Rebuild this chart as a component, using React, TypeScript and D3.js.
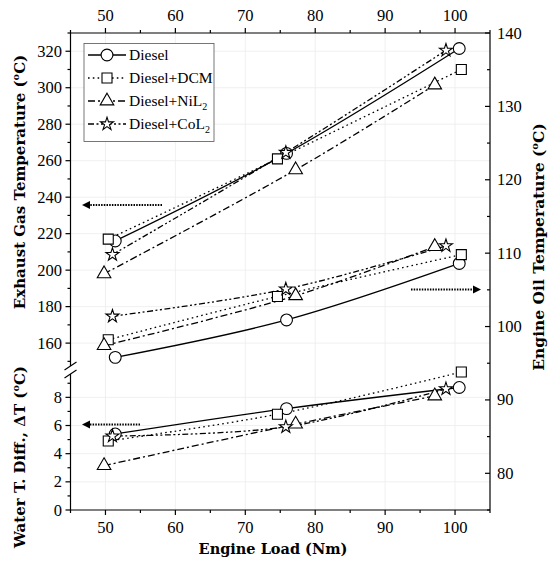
import React, { useEffect, useRef } from 'react';
import * as d3 from 'd3';

// engine load per series (x positions are slightly offset in the source figure)
const seriesNames = ['Diesel', 'Diesel+DCM', 'Diesel+NiL2', 'Diesel+CoL2'];
const dieselLoad = [51.4, 75.9, 100.6];
const dcmLoad = [50.4, 74.6, 100.9];
const nilLoad = [49.8, 77.2, 97.1];
const colLoad = [51.0, 75.8, 98.7];

// exhaust gas temperature (left axis, upper panel)
const dieselExhaust = [216, 264, 321.5];
const dcmExhaust = [217, 261, 310];
const nilExhaust = [198, 255, 301.5];
const colExhaust = [208.5, 264.5, 320.5];

// engine oil temperature (right axis)
const dieselOil = [95.8, 100.9, 108.6];
const dcmOil = [98.2, 104.1, 109.8];
const nilOil = [97.4, 104.2, 110.9];
const colOil = [101.4, 105.1, 111];

// water temperature difference (left axis, lower panel)
const dieselWater = [5.4, 7.2, 8.7];
const dcmWater = [4.9, 6.8, 9.8];
const nilWater = [3.15, 6.1, 8.1];
const colWater = [5.25, 5.9, 8.6];

const xTicks = [50, 60, 70, 80, 90, 100];
const upperTicks = [160, 180, 200, 220, 240, 260, 280, 300, 320];
const lowerTicks = [0, 2, 4, 6, 8];
const rightTicks = [80, 90, 100, 110, 120, 130, 140];

const loads = [dieselLoad, dcmLoad, nilLoad, colLoad];
const exhaust = [dieselExhaust, dcmExhaust, nilExhaust, colExhaust];
const oil = [dieselOil, dcmOil, nilOil, colOil];
const water = [dieselWater, dcmWater, nilWater, colWater];

const dashes = [null, '1.6,3.2', '7,3,2,3', '6,2.5,2,2.5,2,2.5'];
const symbols = [
  d3.symbol(d3.symbolCircle, 110),
  d3.symbol(d3.symbolSquare, 100),
  d3.symbol(d3.symbolTriangle, 80),
  d3.symbol(d3.symbolStar, 52),
];

const FONT = '"Liberation Serif", serif';
const TITLE_FONT = '"DejaVu Serif", serif';

export default function App() {
  const svgRef = useRef<SVGSVGElement>(null);

  useEffect(() => {
    if (!svgRef.current) return;
    const svg = d3.select(svgRef.current);
    svg.selectAll('*').remove();

    const left = 70.5, right = 490, top = 33, bottom = 510;
    const breakTop = 365, breakBottom = 372;

    const x = d3.scaleLinear().domain([45, 105]).range([left, right]);
    const yUpper = d3.scaleLinear().domain([148, 330]).range([breakTop, top]);
    const yLower = d3.scaleLinear().domain([0, 9.8]).range([bottom, breakBottom]);
    const yRight = d3.scaleLinear().domain([75, 140]).range([bottom, top]);

    svg.append('rect').attr('width', 550).attr('height', 565).attr('fill', '#fff');

    // faint grid
    const grid = svg.append('g').attr('stroke', '#ececec').attr('stroke-width', 0.8);
    xTicks.forEach(t => {
      grid.append('line').attr('x1', x(t)).attr('x2', x(t)).attr('y1', top).attr('y2', bottom);
    });
    upperTicks.forEach(t => {
      grid.append('line').attr('x1', left).attr('x2', right).attr('y1', yUpper(t)).attr('y2', yUpper(t));
    });
    lowerTicks.slice(1).forEach(t => {
      grid.append('line').attr('x1', left).attr('x2', right).attr('y1', yLower(t)).attr('y2', yLower(t));
    });

    const axes = svg.append('g').attr('stroke', '#000').attr('stroke-width', 1.2).attr('fill', 'none');
    // frame: bottom, top, right, broken left
    axes.append('line').attr('x1', left).attr('x2', right).attr('y1', bottom).attr('y2', bottom);
    axes.append('line').attr('x1', left).attr('x2', right).attr('y1', top).attr('y2', top);
    axes.append('line').attr('x1', right).attr('x2', right).attr('y1', top).attr('y2', bottom);
    axes.append('line').attr('x1', left).attr('x2', left).attr('y1', top).attr('y2', breakTop + 1);
    axes.append('line').attr('x1', left).attr('x2', left).attr('y1', breakBottom + 2).attr('y2', bottom);
    // break marks
    [breakTop + 1, breakBottom + 2].forEach(yb => {
      axes.append('line')
        .attr('x1', left - 6).attr('y1', yb + 4)
        .attr('x2', left + 6).attr('y2', yb - 4);
    });

    const labelStyle = (sel: any) =>
      sel.attr('font-family', FONT).attr('font-size', 16.5).attr('fill', '#000');

    // x ticks bottom and top
    d3.range(45, 106, 5).forEach(t => {
      const major = t % 10 === 0;
      const len = major ? 5 : 3;
      axes.append('line').attr('x1', x(t)).attr('x2', x(t)).attr('y1', bottom).attr('y2', bottom + len);
      axes.append('line').attr('x1', x(t)).attr('x2', x(t)).attr('y1', top).attr('y2', top - len);
    });
    xTicks.forEach(t => {
      labelStyle(svg.append('text')).attr('x', x(t)).attr('y', 533).attr('text-anchor', 'middle').text(t);
      labelStyle(svg.append('text')).attr('x', x(t)).attr('y', 21).attr('text-anchor', 'middle').text(t);
    });

    // left upper ticks
    d3.range(150, 331, 10).forEach(t => {
      const len = t % 20 === 0 ? 5 : 3;
      axes.append('line').attr('x1', left - len).attr('x2', left).attr('y1', yUpper(t)).attr('y2', yUpper(t));
    });
    upperTicks.forEach(t => {
      labelStyle(svg.append('text')).attr('x', 62).attr('y', yUpper(t) + 5.5).attr('text-anchor', 'end').text(t);
    });
    // left lower ticks
    d3.range(0, 10, 1).forEach(t => {
      const len = t % 2 === 0 ? 5 : 3;
      axes.append('line').attr('x1', left - len).attr('x2', left).attr('y1', yLower(t)).attr('y2', yLower(t));
    });
    lowerTicks.forEach(t => {
      labelStyle(svg.append('text')).attr('x', 62).attr('y', yLower(t) + 5.5).attr('text-anchor', 'end').text(t);
    });
    // right ticks (inward)
    d3.range(75, 141, 5).forEach(t => {
      const len = t % 10 === 0 ? 5 : 3;
      axes.append('line').attr('x1', right - len).attr('x2', right).attr('y1', yRight(t)).attr('y2', yRight(t));
    });
    rightTicks.forEach(t => {
      labelStyle(svg.append('text')).attr('x', 497).attr('y', yRight(t) + 5.5).attr('text-anchor', 'start').text(t);
    });

    // series lines + markers
    const groups = [
      { values: exhaust, y: yUpper },
      { values: oil, y: yRight },
      { values: water, y: yLower },
    ];
    const plot = svg.append('g');
    groups.forEach(g => {
      g.values.forEach((vals, si) => {
        const pts: [number, number][] = vals.map((v, i) => [x(loads[si][i]), g.y(v)]);
        const line = d3.line().curve(d3.curveCatmullRom.alpha(0.5));
        plot.append('path')
          .attr('d', line(pts))
          .attr('fill', 'none')
          .attr('stroke', '#000')
          .attr('stroke-width', 1.3)
          .attr('stroke-dasharray', dashes[si]);
      });
    });
    groups.forEach(g => {
      g.values.forEach((vals, si) => {
        vals.forEach((v, i) => {
          plot.append('path')
            .attr('d', symbols[si]())
            .attr('transform', `translate(${x(loads[si][i])},${g.y(v)})`)
            .attr('fill', '#fff')
            .attr('stroke', '#000')
            .attr('stroke-width', 1.1);
        });
      });
    });

    // dotted arrows pointing to the axis each group belongs to
    const arrow = (x1: number, x2: number, y: number) => {
      const dir = Math.sign(x2 - x1);
      svg.append('line')
        .attr('x1', x1).attr('x2', x2 - dir * 6).attr('y1', y).attr('y2', y)
        .attr('stroke', '#000').attr('stroke-width', 1.8).attr('stroke-dasharray', '1.5,1.2');
      svg.append('path')
        .attr('d', `M${x2},${y}L${x2 - dir * 8},${y - 4}L${x2 - dir * 8},${y + 4}Z`)
        .attr('fill', '#000');
    };
    arrow(162, 82, 205);
    arrow(411, 481, 289.5);
    arrow(140, 82, 424.5);

    // legend
    const legend = svg.append('g');
    legend.append('rect')
      .attr('x', 84).attr('y', 43.5).attr('width', 130).attr('height', 98)
      .attr('fill', '#fff').attr('stroke', '#555').attr('stroke-width', 0.8);
    seriesNames.forEach((name, si) => {
      const ly = 55 + si * 23;
      legend.append('line')
        .attr('x1', 88).attr('x2', 126).attr('y1', ly).attr('y2', ly)
        .attr('stroke', '#000').attr('stroke-width', 1.3)
        .attr('stroke-dasharray', dashes[si]);
      legend.append('path')
        .attr('d', symbols[si]())
        .attr('transform', `translate(107,${ly})`)
        .attr('fill', '#fff').attr('stroke', '#000').attr('stroke-width', 1.1);
      const txt = legend.append('text')
        .attr('x', 129).attr('y', ly + 5)
        .attr('font-family', FONT).attr('font-size', 15.5).attr('fill', '#000');
      if (name.endsWith('2')) {
        txt.append('tspan').text(name.slice(0, -1));
        txt.append('tspan').attr('font-size', 10).attr('dy', 4).text('2');
      } else {
        txt.text(name);
      }
    });

    // axis titles (all read bottom to top)
    const title = (tx: number, ty: number, size: number, main: string) => {
      const t = svg.append('text')
        .attr('transform', `translate(${tx},${ty}) rotate(-90)`)
        .attr('text-anchor', 'middle')
        .attr('font-family', TITLE_FONT).attr('font-size', size).attr('font-weight', 'bold').attr('fill', '#000');
      t.append('tspan').text(main + ' (');
      t.append('tspan').attr('font-size', size * 0.65).attr('dy', -6).text('o');
      t.append('tspan').attr('dy', 6).text('C)');
    };
    title(25, 182, 15, 'Exhaust Gas Temperature');
    title(25, 457, 15, 'Water T. Diff., ΔT');
    title(544, 247, 15.5, 'Engine Oil Temperature');
    svg.append('text')
      .attr('x', 273).attr('y', 554)
      .attr('text-anchor', 'middle')
      .attr('font-family', TITLE_FONT).attr('font-size', 14.5).attr('font-weight', 'bold').attr('fill', '#000')
      .text('Engine Load (Nm)');
  }, []);

  return (
    <svg
      ref={svgRef}
      width={550}
      height={565}
      style={{ position: 'absolute', left: 0, top: 0, display: 'block' }}
    />
  );
}
